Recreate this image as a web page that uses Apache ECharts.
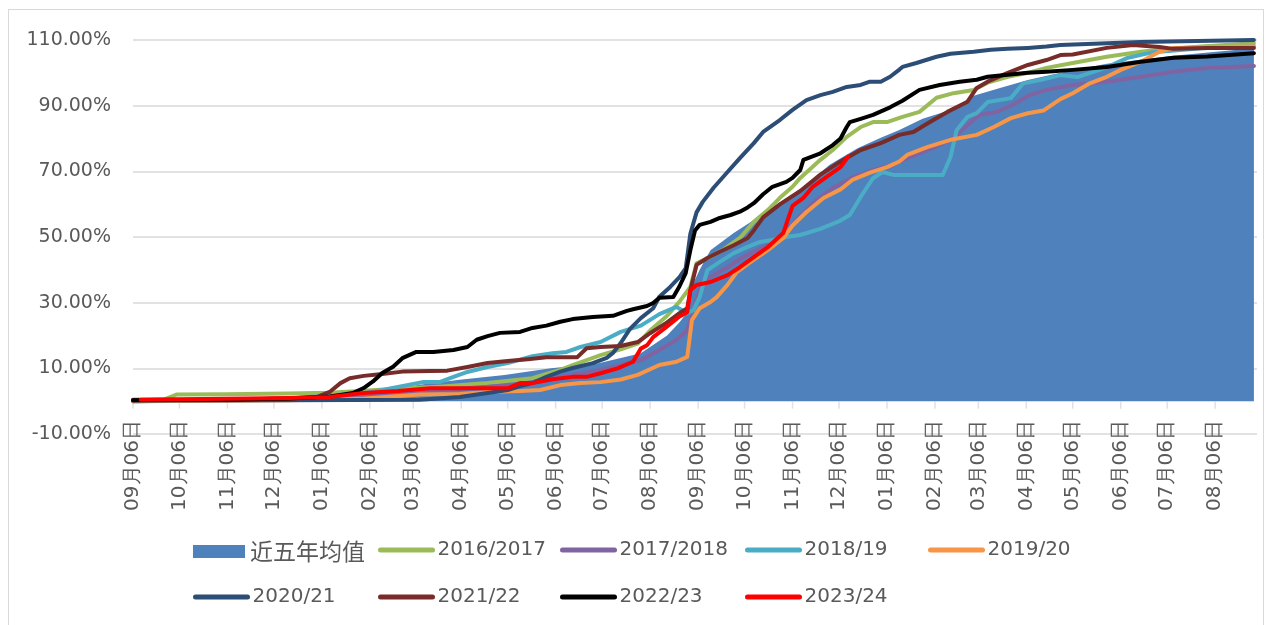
<!DOCTYPE html>
<html><head><meta charset="utf-8">
<script src="https://cdn.jsdelivr.net/npm/echarts@6/dist/echarts.min.js"></script>
<style>html,body{margin:0;padding:0;background:#fff;}#c{width:1271px;height:625px;}</style>
</head><body><div id="c"></div>
<script>
// x values are days after 09月06日 (first season year)
const tickDays = [0,30,61,91,122,153,181,212,242,273,303,334,365,395,426,456,487,518,546,577,607,638,668,699];
const tickLabels = ['09月06日','10月06日','11月06日','12月06日','01月06日','02月06日','03月06日','04月06日','05月06日','06月06日','07月06日','08月06日',
  '09月06日','10月06日','11月06日','12月06日','01月06日','02月06日','03月06日','04月06日','05月06日','06月06日','07月06日','08月06日'];
const yTicks = [-10,10,30,50,70,90,110];

const avg5 = [[0,0],[60,0.2],[100,0.5],[130,1],[155,2.5],[185,5],[211,6.5],[240,8],[270,10],[300,11.5],[328,14.6],[345,20],[353,24],[358,27],[362,36],[366,40],[373,46],[388,51.2],[399,54.6],[413,59],[431,64.5],[450,72],[468,77],[483,80.2],[495,82.6],[510,86],[528,88.7],[543,93],[560,95.4],[578,97.8],[599,100],[629,102.8],[672,105.2],[724,107.5]];
const s1617 = [[0,0.2],[20,0.5],[28,2],[60,2.1],[100,2.3],[127,2.6],[160,3.5],[200,4.5],[229,5.5],[258,7],[267,8.3],[276,9.5],[284,11],[293,12.5],[302,14],[315,15.8],[326,17.5],[334,21.5],[345,26],[353,30.3],[360,34.8],[364,42],[373,44],[381,46.1],[392,49.7],[401,54.6],[410,58.2],[418,62],[426,65.3],[431,68],[444,73.5],[452,76.5],[461,80.5],[470,83.5],[478,85],[487,85],[497,86.6],[508,88.1],[519,92.4],[530,93.8],[543,94.8],[552,97],[565,98.8],[578,100],[590,101.5],[607,103],[629,104.9],[651,106.4],[663,107],[690,108],[724,109]];
const s1718 = [[0,0],[100,0.5],[150,1.5],[200,3.5],[250,5],[271,7],[302,9.5],[315,11],[328,12.5],[340,15.6],[351,18.6],[358,21.6],[362,27.7],[366,33.8],[373,37.8],[384,40.8],[394,43.9],[407,46.9],[418,50],[424,53],[439,60.3],[452,64.9],[465,68.2],[478,70.4],[491,72],[500,74],[508,75.5],[521,78],[530,80.2],[539,84.1],[547,87.2],[558,88.1],[568,90.2],[579,93.2],[590,94.8],[607,96.3],[629,97.3],[651,98.8],[672,100.3],[694,101.5],[724,102.1]];
const s1819 = [[0,0],[100,0.8],[150,2.5],[161,3.4],[187,5.8],[198,5.8],[207,7.4],[216,8.9],[229,10.4],[242,11.6],[258,13.7],[271,14.6],[280,15],[289,16.5],[302,18],[315,21.1],[328,23],[340,26.5],[351,28.7],[358,26.8],[362,27.7],[366,31.7],[371,39.9],[379,42.4],[388,45.1],[397,47],[405,48.5],[413,49.1],[422,50],[431,50.6],[444,52.5],[457,55],[463,56.7],[470,62.2],[478,67.9],[484,69.8],[491,68.9],[523,68.9],[528,74.3],[532,82.5],[539,86.6],[545,87.7],[552,91.1],[567,92.3],[575,96.8],[586,97.8],[599,99.3],[610,98.7],[629,101.7],[642,104.5],[659,106.3],[690,107.5],[724,108]];
const s1920 = [[0,0],[100,0.3],[150,0.8],[185,2],[211,2.2],[229,2.8],[250,3.1],[263,3.4],[276,4.9],[289,5.5],[302,5.8],[315,6.6],[326,8],[340,11],[351,12],[358,13.5],[361,24.7],[366,28.3],[373,30.2],[377,31.7],[384,35.4],[390,39.3],[399,42.4],[410,46],[420,49.7],[426,53.5],[435,57.6],[446,61.9],[457,64.5],[465,67.5],[476,69.6],[487,71.3],[495,73],[500,75],[513,77.4],[528,79.6],[545,81.1],[556,83.5],[567,86.2],[578,87.7],[588,88.5],[599,92],[607,93.8],[618,96.8],[629,98.8],[638,100.9],[651,103.4],[663,106.4],[672,107.6],[724,108]];
const s2021 = [[0,0.2],[100,0.3],[185,0.4],[211,1.3],[229,2.5],[242,3.4],[250,4.6],[258,5.5],[267,7.4],[276,9],[284,10.1],[297,11.6],[306,13.2],[310,14.7],[315,17.7],[321,22],[328,25.3],[336,28.3],[340,31.8],[347,34.8],[353,37.8],[357,40.5],[360,51],[364,57.5],[368,60.7],[375,65],[384,69.8],[392,74],[401,78.6],[407,82],[418,85.7],[426,88.7],[435,91.7],[444,93.2],[452,94.2],[461,95.7],[470,96.3],[476,97.3],[483,97.3],[489,98.8],[495,101],[497,101.8],[506,103],[519,104.9],[528,105.8],[543,106.4],[554,107],[565,107.3],[578,107.6],[590,108],[599,108.5],[651,109.4],[724,110]];
const s2122 = [[0,0.4],[60,0.4],[100,0.6],[119,1.3],[127,2.8],[134,5.5],[140,7],[149,7.7],[161,8.3],[174,9],[192,9.2],[203,9.3],[216,10.4],[229,11.6],[242,12.2],[255,12.8],[267,13.4],[287,13.4],[293,16.1],[302,16.5],[315,16.8],[326,18],[334,20.7],[345,24],[353,26.8],[358,28.3],[360,33.8],[364,41.5],[371,43.6],[379,45.5],[388,47.5],[397,49.7],[401,52],[407,56],[418,60],[431,64],[444,69],[457,73],[470,76.5],[483,78.6],[495,81.1],[504,82],[515,85.1],[526,88.1],[539,91.2],[545,95.4],[552,97.3],[565,100],[578,102.4],[590,103.9],[599,105.4],[607,105.6],[629,107.6],[646,108.5],[663,107.9],[672,107.3],[694,107.6],[724,107.6]];
const s2223 = [[0,0.3],[60,0.4],[100,0.8],[127,1.4],[134,1.9],[142,2.5],[149,4],[155,6],[161,8.6],[168,10.5],[174,13.1],[183,15],[194,15],[207,15.6],[216,16.5],[222,18.7],[229,19.8],[237,20.8],[250,21.1],[258,22.3],[267,23],[276,24.2],[284,25],[297,25.6],[310,26],[319,27.5],[323,28],[332,29],[336,29.9],[340,31.5],[349,31.7],[353,35],[357,39],[360,46],[363,52],[366,53.7],[373,54.6],[379,55.8],[386,56.7],[392,57.7],[397,59],[401,60.3],[407,63],[413,65.3],[422,66.8],[426,68],[431,70.4],[433,73.5],[444,75.5],[452,78],[457,80],[461,83.5],[463,85],[470,86],[478,87.2],[489,89.5],[497,91.5],[508,94.8],[521,96.3],[534,97.3],[545,97.9],[552,98.8],[565,99.4],[578,100],[590,100.3],[607,100.9],[629,101.8],[651,103.4],[672,104.6],[694,105],[724,106]];
const s2324 = [[5,0.4],[101,1],[127,1.3],[149,2.5],[171,3.1],[192,3.9],[207,3.9],[242,3.9],[250,5.5],[258,5.5],[271,6.7],[284,7.4],[293,7.4],[302,8.5],[313,10],[323,12],[328,16],[332,17],[336,19.5],[345,22.8],[353,25.8],[358,27.1],[360,33.8],[364,35.4],[373,36.3],[384,38.4],[392,40.8],[401,43.9],[410,46.9],[420,51.2],[426,59.5],[433,61.9],[439,65.3],[448,68.3],[457,71.3],[462,74.5]];

const lineDefs = [
  ['2016/2017', s1617, '#9BBB59'],
  ['2017/2018', s1718, '#8064A2'],
  ['2018/19', s1819, '#4BACC6'],
  ['2019/20', s1920, '#F79646'],
  ['2020/21', s2021, '#2C4D75'],
  ['2021/22', s2122, '#772C2A'],
  ['2022/23', s2223, '#000000'],
  ['2023/24', s2324, '#FF0000']
];

const series = [{
  name: '近五年均值', type: 'line', data: avg5, symbol: 'none',
  lineStyle: {width: 0}, itemStyle: {color: '#4F81BD'},
  areaStyle: {color: '#4F81BD', opacity: 1}
}].concat(lineDefs.map(d => ({
  name: d[0], type: 'line', data: d[1], symbol: 'none',
  lineStyle: {width: 4, color: d[2], cap: 'round', join: 'round'},
  itemStyle: {color: d[2]}
}))).concat([{
  name: 'ticks', type: 'scatter', silent: true, z: 1,
  data: tickDays.map(d => [d, 0]),
  symbol: 'rect', symbolSize: [1.5, 7], symbolOffset: [0, 4],
  itemStyle: {color: '#D9D9D9'}
}]);

const cols = [193, 378, 560, 745, 928];
const rows = [540, 587];
const legendLayout = [
  ['近五年均值', 0, 0], ['2016/2017', 1, 0], ['2017/2018', 2, 0], ['2018/19', 3, 0], ['2019/20', 4, 0],
  ['2020/21', 0, 1], ['2021/22', 1, 1], ['2022/23', 2, 1], ['2023/24', 3, 1]
];
const legends = legendLayout.map(l => {
  const isArea = l[0] === '近五年均值';
  return {
    left: cols[l[1]], top: rows[l[2]], padding: 0, itemGap: 0,
    itemWidth: 52, itemHeight: isArea ? 13 : 8, itemTextGap: 5,
    selectedMode: false,
    itemStyle: isArea ? {} : {opacity: 0},
    lineStyle: {width: 5, cap: 'round'},
    data: [isArea ? {name: l[0], icon: 'rect'} : {name: l[0]}],
    textStyle: isArea
      ? {fontFamily: 'Noto Sans CJK SC', fontSize: 23, color: '#595959', lineHeight: 20}
      : {fontFamily: 'DejaVu Sans', fontSize: 20, color: '#595959', lineHeight: 20}
  };
});

const chart = echarts.init(document.getElementById('c'), null, {renderer: 'canvas'});
chart.setOption({
  animation: false,
  backgroundColor: '#fff',
  legend: legends,
  grid: {left: 133, right: 14, top: 40, bottom: 191, containLabel: false},
  xAxis: {
    type: 'value', min: 0, max: 726,
    axisLine: {show: false, onZero: false},
    axisTick: {show: false},
    axisLabel: {
      customValues: tickDays, rotate: 90, margin: -14,
      fontFamily: 'DejaVu Sans', fontSize: 20, color: '#595959',
      formatter: v => { const i = tickDays.indexOf(v); return i >= 0 ? tickLabels[i] : ''; }
    },
    splitLine: {show: false}
  },
  yAxis: {
    type: 'value', min: yTicks[0], max: yTicks[yTicks.length - 1], interval: 20,
    axisLine: {show: false}, axisTick: {show: false},
    axisLabel: {margin: 22, fontFamily: 'DejaVu Sans', fontSize: 19, color: '#595959',
      formatter: v => v.toFixed(2) + '%'},
    splitLine: {lineStyle: {color: '#D9D9D9', width: 1.5}}
  },
  series: series
});
</script>
<div style="position:absolute;left:8px;top:9px;width:1254px;height:640px;border:1px solid #D9D9D9;pointer-events:none;"></div>
</body></html>
